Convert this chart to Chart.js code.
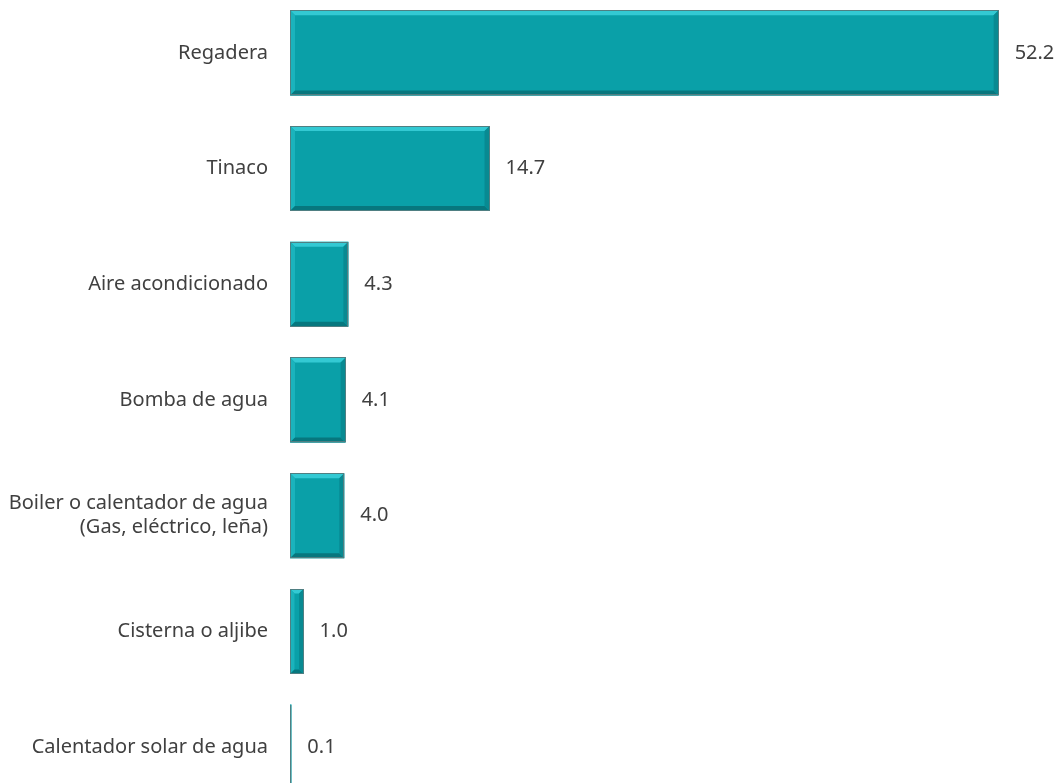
<!DOCTYPE html>
<html>
<head>
<meta charset="utf-8">
<script src="https://cdn.jsdelivr.net/npm/chart.js@4"></script>
<style>
  html, body { margin: 0; padding: 0; background: #fff; overflow: hidden; }
  #wrap { position: absolute; left: 0; top: -5px; width: 1057px; height: 810px; }
</style>
</head>
<body>
<div id="wrap"><canvas id="grafico"></canvas></div>
<script>
// ==========================
// DATOS
// ==========================
const categorias = [
  "Regadera",
  "Tinaco",
  "Aire acondicionado",
  "Bomba de agua",
  ["Boiler o calentador de agua", "(Gas, eléctrico, leña)"],
  "Cisterna o aljibe",
  "Calentador solar de agua",
];
const valores = [52.2, 14.7, 4.3, 4.1, 4.0, 1.0, 0.1];

const COLOR_BARRA = "#0aa0a8";
const COLOR_TEXTO = "#404040";
const FUENTE = "'Noto Sans', 'Open Sans', sans-serif";

// ==========================
// BISEL DE LAS BARRAS
// ==========================
const bisel = {
  id: "bisel",
  afterDatasetsDraw(chart) {
    const ctx = chart.ctx;
    const meta = chart.getDatasetMeta(0);
    meta.data.forEach((bar) => {
      const l = Math.min(bar.base, bar.x);
      const r = Math.max(bar.base, bar.x);
      const t = bar.y - bar.height / 2;
      const b = bar.y + bar.height / 2;
      const w = r - l;
      const s = Math.min(5, w / 3);

      ctx.save();
      // arriba
      ctx.fillStyle = "#33c9d3";
      ctx.beginPath();
      ctx.moveTo(l, t); ctx.lineTo(r, t); ctx.lineTo(r - s, t + s); ctx.lineTo(l + s, t + s);
      ctx.closePath(); ctx.fill();
      // izquierda
      ctx.fillStyle = "#1bb3bc";
      ctx.beginPath();
      ctx.moveTo(l, t); ctx.lineTo(l + s, t + s); ctx.lineTo(l + s, b - s); ctx.lineTo(l, b);
      ctx.closePath(); ctx.fill();
      // abajo
      ctx.fillStyle = "#07777e";
      ctx.beginPath();
      ctx.moveTo(l, b); ctx.lineTo(l + s, b - s); ctx.lineTo(r - s, b - s); ctx.lineTo(r, b);
      ctx.closePath(); ctx.fill();
      // derecha
      ctx.fillStyle = "#088a92";
      ctx.beginPath();
      ctx.moveTo(r, t); ctx.lineTo(r, b); ctx.lineTo(r - s, b - s); ctx.lineTo(r - s, t + s);
      ctx.closePath(); ctx.fill();
      // contorno
      ctx.strokeStyle = "#4f7f82";
      ctx.lineWidth = 1;
      ctx.strokeRect(Math.round(l) + 0.5, Math.round(t) + 0.5, Math.max(Math.round(w) - 1, 0), Math.round(b - t) - 1);
      ctx.restore();
    });
  },
};

// ==========================
// ETIQUETAS DE VALOR
// ==========================
const etiquetas = {
  id: "etiquetas",
  afterDatasetsDraw(chart) {
    const ctx = chart.ctx;
    const meta = chart.getDatasetMeta(0);
    ctx.save();
    ctx.fillStyle = COLOR_TEXTO;
    ctx.font = "20px " + FUENTE;
    ctx.textAlign = "left";
    ctx.textBaseline = "middle";
    meta.data.forEach((bar, i) => {
      ctx.fillText(valores[i].toFixed(1), bar.x + 16, bar.y);
    });
    ctx.restore();
  },
};

// ==========================
// GRAFICO
// ==========================
let chart;

function iniciarGrafico() {
  const ctx = document.getElementById("grafico").getContext("2d");

  chart = new Chart(ctx, {
    type: "bar",
    data: {
      labels: categorias,
      datasets: [
        {
          data: valores,
          backgroundColor: COLOR_BARRA,
          borderWidth: 0,
          barPercentage: 0.735,
          categoryPercentage: 1,
        },
      ],
    },
    options: {
      indexAxis: "y",
      responsive: true,
      maintainAspectRatio: false,
      animation: false,
      layout: { padding: 0 },
      plugins: {
        legend: { display: false },
        tooltip: { enabled: false },
      },
      scales: {
        x: {
          display: false,
          min: 0,
          max: 56.5,
        },
        y: {
          afterFit: (s) => {
            s.width = 290;
            s.paddingTop = 0;
            s.paddingBottom = 0;
          },
          grid: { display: false, drawTicks: false },
          border: { display: false },
          ticks: {
            padding: 22,
            color: COLOR_TEXTO,
            font: { family: FUENTE, size: 20, lineHeight: 1.2 },
          },
        },
      },
    },
    plugins: [bisel, etiquetas],
  });
}

window.onload = function () {
  iniciarGrafico();
};
</script>
</body>
</html>
